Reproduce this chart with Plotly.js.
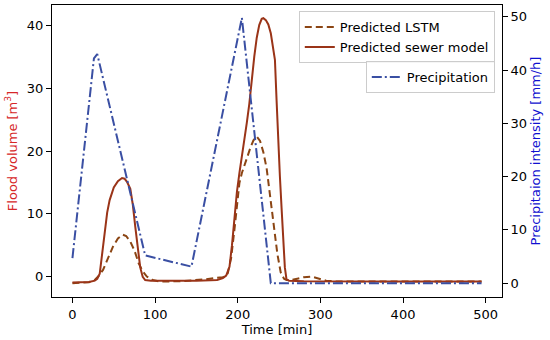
<!DOCTYPE html>
<html>
<head>
<meta charset="utf-8">
<script src="https://cdn.plot.ly/plotly-3.0.1.min.js"></script>
<style>html,body{margin:0;padding:0;background:#fff;}#chart{width:550px;height:340px;}</style>
</head>
<body>
<div id="chart"></div>
<script>
// Predicted LSTM flood volume [m3]
const lstmTime = [0,10,20,27,32,37,43,49,55,61,65,70,75,80,85,90,97,106,130,160,182,186,188,192,196,199,202,205,210,215,219,223,227,231,235,239,242,245,248,252,256,259,265,272,280,289,297,307,320,400,495];
const lstmValue = [-1.0,-0.9,-0.85,-0.5,0.2,1.1,3.0,4.8,6.1,6.7,6.5,5.6,4.2,2.2,0.9,0.05,-0.5,-0.75,-0.7,-0.4,-0.05,0.2,0.6,3.0,7.5,11.5,14.9,16.5,18.6,20.4,21.7,22.3,21.6,19.8,17.2,13.2,10.0,6.8,3.6,0.7,-0.3,-0.5,-0.5,-0.3,-0.05,0.05,-0.2,-0.6,-0.75,-0.75,-0.75];

// Predicted sewer model flood volume [m3]
const sewerTime = [0,10,20,27,30,33,36,39,42,45,50,55,60,63,66,70,73,76,79,82,85,88,95,120,150,175,182,186,190,193,196,199,202,205,208,211,214,217,220,223,226,229,231,234,237,240,243,245,247,249,251,253,255,257,259,262,280,320,400,495];
const sewerValue = [-0.9,-0.85,-0.8,-0.6,-0.3,0.5,4.0,7.5,10.2,12.2,14.2,15.2,15.7,15.6,15.1,14.0,11.5,8.0,4.5,1.5,0.0,-0.5,-0.6,-0.65,-0.6,-0.5,-0.2,0.2,1.6,5.0,9.5,13.5,16.5,19.0,21.5,24.5,27.5,31.5,35.0,38.0,40.0,41.0,41.1,40.8,40.1,38.7,36.5,34.5,28.0,21.0,16.0,11.0,6.0,1.5,-0.4,-0.6,-0.7,-0.75,-0.75,-0.75];

// Precipitation intensity [mm/h]
const precipTime = [0,26,30,88,144,205,240,495];
const precipValue = [4.7,42.2,43.0,5.2,3.1,49.8,0,0];

const xTicks = [0,100,200,300,400,500];
const yTicks = [0,10,20,30,40];
const y2Ticks = [0,10,20,30,40,50];

const FONT = 'DejaVu Sans, Verdana, sans-serif';

const traces = [
  {x: lstmTime, y: lstmValue, type: 'scatter', mode: 'lines', name: 'Predicted LSTM',
   line: {color: '#8B4513', width: 2, dash: '7px,4px'}, legend: 'legend'},
  {x: sewerTime, y: sewerValue, type: 'scatter', mode: 'lines', name: 'Predicted sewer model',
   line: {color: '#9a3418', width: 2}, legend: 'legend'},
  {x: precipTime, y: precipValue, type: 'scatter', mode: 'lines', name: 'Precipitation', yaxis: 'y2',
   line: {color: '#3a4fa3', width: 2, dash: '10px,3px,2px,3px'}, legend: 'legend2'}
];

const axisCommon = {
  showline: true, linecolor: '#000', linewidth: 1, ticks: 'outside', ticklen: 5, tickcolor: '#000',
  showgrid: false, zeroline: false, tickfont: {family: FONT, size: 13, color: '#000'}
};

const layout = {
  width: 550, height: 340,
  margin: {l: 52, r: 48, t: 5, b: 43},
  paper_bgcolor: '#fff', plot_bgcolor: '#fff',
  font: {family: FONT, size: 13, color: '#000'},
  xaxis: Object.assign({}, axisCommon, {
    range: [-24.75, 519.75], tickmode: 'array', tickvals: xTicks, mirror: true,
    title: {text: 'Time [min]', font: {family: FONT, size: 13, color: '#000'}, standoff: 2}
  }),
  yaxis: Object.assign({}, axisCommon, {
    range: [-3.2, 43.2], tickmode: 'array', tickvals: yTicks, mirror: true,
    title: {text: 'Flood volume [m<sup>3</sup>]', font: {family: FONT, size: 13, color: '#d62728'}, standoff: 6}
  }),
  yaxis2: Object.assign({}, axisCommon, {
    range: [-2.6, 52.2], tickmode: 'array', tickvals: y2Ticks, overlaying: 'y', side: 'right',
    title: {text: 'Precipitaion intensity [mm/h]', font: {family: FONT, size: 13, color: '#1010d0'}, standoff: 4}
  }),
  showlegend: true,
  legend: {x: 0.984, y: 0.979, xanchor: 'right', yanchor: 'top', bgcolor: 'rgba(255,255,255,0.8)',
           bordercolor: '#cccccc', borderwidth: 1, font: {family: FONT, size: 13, color: '#000'}},
  legend2: {x: 0.984, y: 0.808, xanchor: 'right', yanchor: 'top', bgcolor: 'rgba(255,255,255,0.8)',
            bordercolor: '#cccccc', borderwidth: 1, font: {family: FONT, size: 13, color: '#000'}}
};

Plotly.newPlot('chart', traces, layout, {displayModeBar: false, staticPlot: true});
</script>
</body>
</html>
